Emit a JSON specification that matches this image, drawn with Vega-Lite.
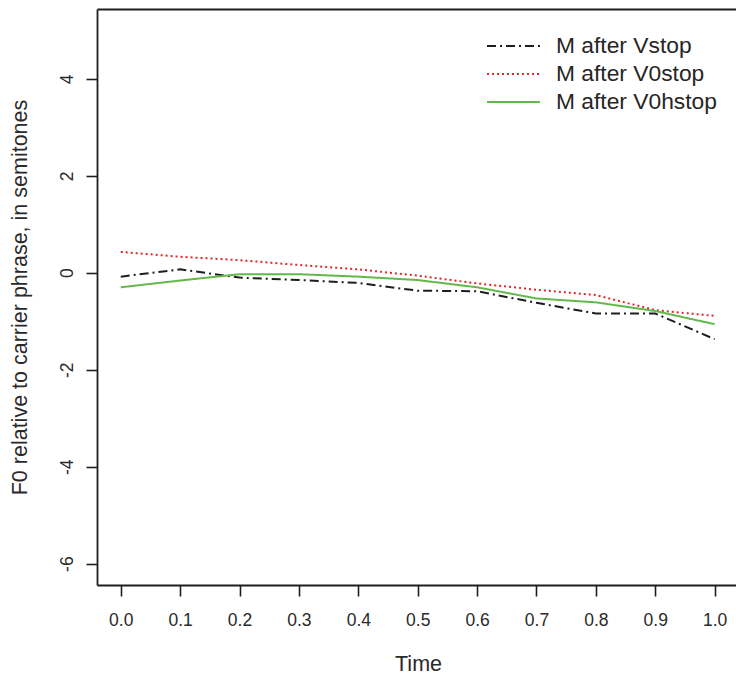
{
  "$schema": "https://vega.github.io/schema/vega-lite/v6.json",
  "width": 639,
  "height": 576,
  "autosize": "none",
  "padding": {"left": 97, "top": 9, "right": 0, "bottom": 91},
  "background": "white",
  "config": {
    "view": {"stroke": null},
    "font": "Liberation Sans",
    "axis": {"grid": false, "domainColor": "#1e1e1e", "domainWidth": 1.8, "tickColor": "#1e1e1e", "tickWidth": 1.6, "tickSize": 11, "labelColor": "#2a2a2a", "titleColor": "#2a2a2a", "labelFont": "Liberation Sans", "titleFont": "Liberation Sans", "titleFontWeight": "normal"}
  },
  "data": {
    "values": [
      {"time": 0.0, "f0": -0.08, "series": "M after Vstop"},
      {"time": 0.1, "f0": 0.07, "series": "M after Vstop"},
      {"time": 0.2, "f0": -0.1, "series": "M after Vstop"},
      {"time": 0.3, "f0": -0.15, "series": "M after Vstop"},
      {"time": 0.4, "f0": -0.21, "series": "M after Vstop"},
      {"time": 0.5, "f0": -0.37, "series": "M after Vstop"},
      {"time": 0.6, "f0": -0.38, "series": "M after Vstop"},
      {"time": 0.7, "f0": -0.62, "series": "M after Vstop"},
      {"time": 0.8, "f0": -0.84, "series": "M after Vstop"},
      {"time": 0.9, "f0": -0.84, "series": "M after Vstop"},
      {"time": 1.0, "f0": -1.37, "series": "M after Vstop"},
      {"time": 0.0, "f0": 0.43, "series": "M after V0stop"},
      {"time": 0.1, "f0": 0.33, "series": "M after V0stop"},
      {"time": 0.2, "f0": 0.26, "series": "M after V0stop"},
      {"time": 0.3, "f0": 0.16, "series": "M after V0stop"},
      {"time": 0.4, "f0": 0.07, "series": "M after V0stop"},
      {"time": 0.5, "f0": -0.06, "series": "M after V0stop"},
      {"time": 0.6, "f0": -0.22, "series": "M after V0stop"},
      {"time": 0.7, "f0": -0.35, "series": "M after V0stop"},
      {"time": 0.8, "f0": -0.46, "series": "M after V0stop"},
      {"time": 0.9, "f0": -0.77, "series": "M after V0stop"},
      {"time": 1.0, "f0": -0.89, "series": "M after V0stop"},
      {"time": 0.0, "f0": -0.3, "series": "M after V0hstop"},
      {"time": 0.1, "f0": -0.16, "series": "M after V0hstop"},
      {"time": 0.2, "f0": -0.03, "series": "M after V0hstop"},
      {"time": 0.3, "f0": -0.03, "series": "M after V0hstop"},
      {"time": 0.4, "f0": -0.08, "series": "M after V0hstop"},
      {"time": 0.5, "f0": -0.15, "series": "M after V0hstop"},
      {"time": 0.6, "f0": -0.3, "series": "M after V0hstop"},
      {"time": 0.7, "f0": -0.53, "series": "M after V0hstop"},
      {"time": 0.8, "f0": -0.61, "series": "M after V0hstop"},
      {"time": 0.9, "f0": -0.79, "series": "M after V0hstop"},
      {"time": 1.0, "f0": -1.06, "series": "M after V0hstop"}
    ]
  },
  "layer": [
    {
      "mark": {"type": "line", "strokeWidth": 2, "clip": true},
      "encoding": {
        "x": {
          "field": "time", "type": "quantitative",
          "scale": {"domain": [-0.04, 1.036], "nice": false, "zero": false},
          "axis": {
            "values": [0, 0.1, 0.2, 0.3, 0.4, 0.5, 0.6, 0.7, 0.8, 0.9, 1.0],
            "format": ".1f", "labelFontSize": 17.5, "labelBaseline": "alphabetic", "labelPadding": 29.7,
            "labelFlush": false,
            "title": "Time", "titleFontSize": 21.5, "titleX": 321, "titleY": 85, "titleAlign": "center", "titleBaseline": "alphabetic"
          }
        },
        "y": {
          "field": "f0", "type": "quantitative",
          "scale": {"domain": [-6.44, 5.44], "nice": false, "zero": false},
          "axis": {
            "values": [-6, -4, -2, 0, 2, 4],
            "labelExpr": "'' + datum.value",
            "labelFontSize": 17.5, "labelAngle": 270, "labelAlign": "center", "labelBaseline": "alphabetic", "labelPadding": 14,
            "labelFlush": false,
            "title": "F0 relative to carrier phrase, in semitones", "titleFontSize": 21.5,
            "titleAngle": 270, "titleX": -71, "titleY": 288, "titleAlign": "center", "titleBaseline": "alphabetic"
          }
        },
        "color": {
          "field": "series", "type": "nominal",
          "scale": {"domain": ["M after Vstop", "M after V0stop", "M after V0hstop"], "range": ["#1e1e1e", "#e3262b", "#62b94a"]},
          "legend": {
            "orient": "none", "legendX": 389, "legendY": 26, "title": null, "padding": 0,
            "clipHeight": 22, "rowPadding": 5, "symbolType": "stroke", "symbolSize": 2809, "symbolStrokeWidth": 2,
            "symbolOffset": 0, "labelOffset": 15, "labelFontSize": 22.8, "labelFont": "Liberation Sans", "labelColor": "#262626", "labelLimit": 400
          }
        },
        "strokeDash": {
          "field": "series", "type": "nominal",
          "scale": {"domain": ["M after Vstop", "M after V0stop", "M after V0hstop"], "range": [[9, 4, 2, 4], [2, 3], [1, 0]]},
          "legend": {
            "orient": "none", "legendX": 389, "legendY": 26, "title": null, "padding": 0,
            "clipHeight": 22, "rowPadding": 5, "symbolType": "stroke", "symbolSize": 2809, "symbolStrokeWidth": 2,
            "symbolOffset": 0, "labelOffset": 15, "labelFontSize": 22.8, "labelFont": "Liberation Sans", "labelColor": "#262626", "labelLimit": 400
          }
        }
      }
    },
    {
      "mark": {"type": "line", "opacity": 0},
      "encoding": {
        "x": {
          "field": "time", "type": "quantitative",
          "axis": {"orient": "top", "labels": false, "ticks": false, "domain": true, "title": null, "grid": false}
        },
        "y": {"field": "f0", "type": "quantitative"}
      }
    }
  ],
  "resolve": {"axis": {"x": "independent"}}
}
